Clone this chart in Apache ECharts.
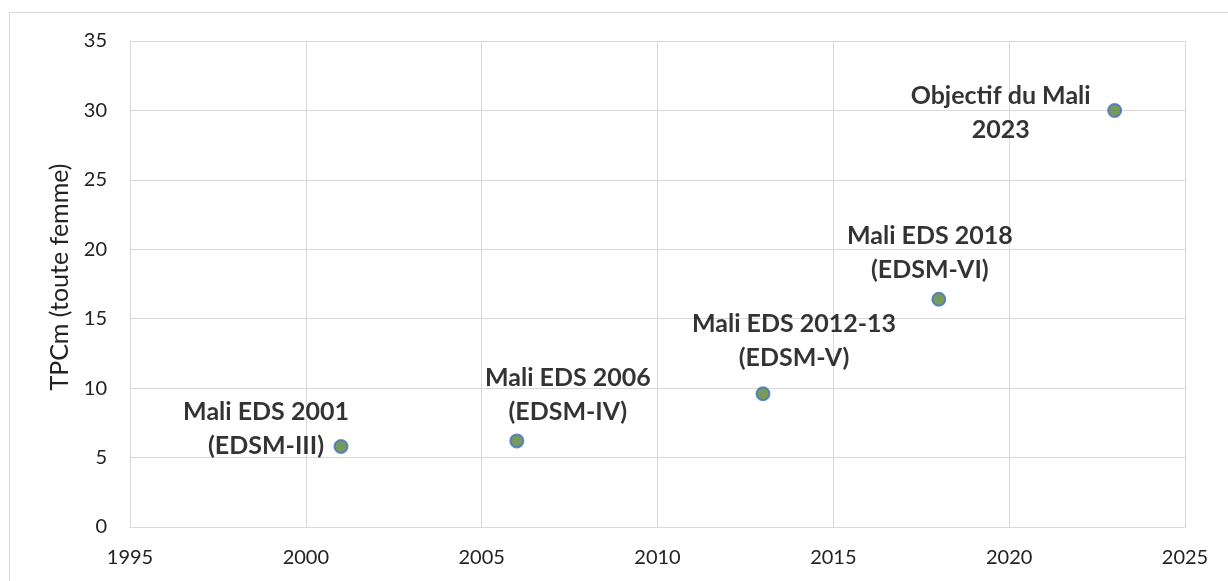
<!DOCTYPE html>
<html>
<head>
<meta charset="utf-8">
<script src="https://cdn.jsdelivr.net/npm/echarts@6/dist/echarts.min.js"></script>
<style>
  html, body { margin: 0; padding: 0; background: #fff; }
  #main { width: 1228px; height: 581px; }
</style>
</head>
<body>
<div id="main"></div>
<script>
// donnees
var years = [2001, 2006, 2013, 2018, 2023];
var tpcm = [5.8, 6.2, 9.6, 16.4, 30];
var pointNames = [
    'Mali EDS 2001\n(EDSM-III)',
    'Mali EDS 2006\n(EDSM-IV)',
    'Mali EDS 2012-13\n(EDSM-V)',
    'Mali EDS 2018\n(EDSM-VI)',
    'Objectif du Mali\n2023'
];

// decalage des etiquettes (style)
var labelShift = [[-75, -18], [51, -46], [31, -53], [-9, -46], [-114, 3]];

var myChart = echarts.init(document.getElementById('main'));

var seriesData = [];
for (var i = 0; i < years.length; i++) {
    seriesData.push({
        value: [years[i], tpcm[i]],
        name: pointNames[i],
        label: { offset: labelShift[i] }
    });
}

var option = {
    backgroundColor: '#fff',
    graphic: [{
        type: 'rect',
        shape: { x: 9.5, y: 12.5, width: 1240, height: 600 },
        style: { fill: 'none', stroke: '#d9d9d9', lineWidth: 1 },
        silent: true
    }],
    grid: { left: 130, right: 43, top: 41, bottom: 54 },
    xAxis: {
        type: 'value',
        min: 1995,
        max: 2025,
        interval: 5,
        axisLine: { show: true, lineStyle: { color: '#d9d9d9' } },
        axisTick: { show: false },
        splitLine: { show: true, lineStyle: { color: '#d9d9d9', width: 1 } },
        axisLabel: {
            color: '#222', fontSize: 20, fontFamily: 'Lato', margin: 21,
            formatter: function (v) { return String(v); }
        }
    },
    yAxis: {
        type: 'value',
        min: 0,
        max: 35,
        interval: 5,
        name: 'TPCm (toute femme)',
        nameLocation: 'middle',
        nameGap: 57,
        nameTextStyle: { color: '#222', fontSize: 25, fontFamily: 'Lato', padding: [0, 0, 0, 14] },
        axisLine: { show: true, lineStyle: { color: '#d9d9d9' } },
        axisTick: { show: false },
        splitLine: { show: true, lineStyle: { color: '#d9d9d9', width: 1 } },
        axisLabel: { color: '#222', fontSize: 20, fontFamily: 'Lato', margin: 23 }
    },
    series: [{
        type: 'scatter',
        symbol: 'circle',
        symbolSize: 13,
        itemStyle: { color: '#548235', borderColor: '#4472c4', borderWidth: 2 },
        label: {
            show: true,
            position: 'inside',
            align: 'center',
            verticalAlign: 'middle',
            formatter: function (p) { return p.name; },
            color: '#000',
            fontWeight: 'bold',
            fontSize: 25,
            fontFamily: 'Lato',
            lineHeight: 34
        },
        data: seriesData
    }]
};

myChart.setOption(option);
</script>
</body>
</html>
